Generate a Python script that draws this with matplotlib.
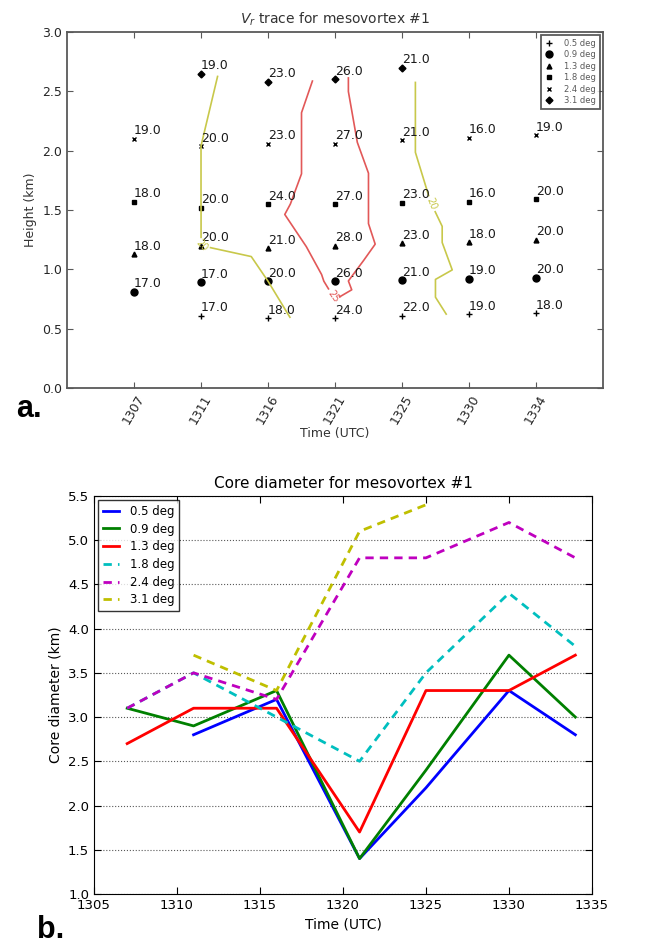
import numpy as np
import matplotlib
matplotlib.use("Agg")
import matplotlib.pyplot as plt
import matplotlib.tri as mtri

# ---- panel a: Vr trace ----
times = ["1307", "1311", "1316", "1321", "1325", "1330", "1334"]
elev_labels = ["0.5 deg", "0.9 deg", "1.3 deg", "1.8 deg", "2.4 deg", "3.1 deg"]
nan = np.nan
h05 = [nan, 0.61, 0.59, 0.59, 0.61, 0.62, 0.63]
h09 = [0.81, 0.89, 0.90, 0.90, 0.91, 0.92, 0.93]
h13 = [1.13, 1.20, 1.18, 1.20, 1.22, 1.23, 1.25]
h18 = [1.57, 1.52, 1.55, 1.55, 1.56, 1.57, 1.59]
h24 = [2.10, 2.04, 2.06, 2.06, 2.09, 2.11, 2.13]
h31 = [nan, 2.65, 2.58, 2.60, 2.70, nan, nan]
v05 = [nan, 17, 18, 24, 22, 19, 18]
v09 = [17, 17, 20, 26, 21, 19, 20]
v13 = [18, 20, 21, 28, 23, 18, 20]
v18 = [18, 20, 24, 27, 23, 16, 20]
v24 = [19, 20, 23, 27, 21, 16, 19]
v31 = [nan, 19, 23, 26, 21, nan, nan]
heights = [h05, h09, h13, h18, h24, h31]
vr = [v05, v09, v13, v18, v24, v31]
contour_levels = [20, 25]

# ---- panel b: core diameter ----
t_b = [1307, 1311, 1316, 1321, 1325, 1330, 1334]
d05 = [nan, 2.8, 3.2, 1.4, 2.2, 3.3, 2.8]
d09 = [3.1, 2.9, 3.3, 1.4, 2.4, 3.7, 3.0]
d13 = [2.7, 3.1, 3.1, 1.7, 3.3, 3.3, 3.7]
d18 = [3.1, 3.5, 3.0, 2.5, 3.5, 4.4, 3.8]
d24 = [3.1, 3.5, 3.2, 4.8, 4.8, 5.2, 4.8]
d31 = [nan, 3.7, 3.3, 5.1, 5.4, nan, nan]
diam = [d05, d09, d13, d18, d24, d31]

plt.rcParams["font.family"] = "DejaVu Sans"
fig = plt.figure(figsize=(6.66, 9.47), dpi=100)

# panel a
ax = fig.add_axes([0.1006, 0.5903, 0.8048, 0.3759])
markers = ["+", "o", "^", "s", "x", "D"]
msizes = [4.5, 5, 3.5, 3.5, 3.5, 3.5]
xs = np.arange(1, len(times) + 1)
px, py, pv = [], [], []
for lab, m, ms, h, v in zip(elev_labels, markers, msizes, heights, vr):
    h = np.array(h, dtype=float)
    v = np.array(v, dtype=float)
    ok = ~np.isnan(h)
    ax.plot(xs[ok], h[ok], ls="none", marker=m, color="k", ms=ms, mew=1.0, label=lab)
    for x, y, val in zip(xs[ok], h[ok], v[ok]):
        ax.annotate(f"{val:.1f}", (x, y), xytext=(0, 1), textcoords="offset points",
                    ha="left", va="bottom", fontsize=9, color="0.1")
    px += list(xs[ok]); py += list(h[ok]); pv += list(v[ok])

px = np.array(px, float); py = np.array(py, float); pv = np.array(pv, float)
# triangulate with stretched heights so interpolation runs mostly along the scan rows,
# drop flat hull slivers and triangles that skip a scan time
tri0 = mtri.Triangulation(px, py * 4.0)
flat = mtri.TriAnalyzer(tri0).get_flat_tri_mask(min_circle_ratio=0.12)
xspan = np.ptp(px[tri0.triangles], axis=1)
tri = mtri.Triangulation(px, py, triangles=tri0.triangles, mask=flat | (xspan > 1.5))
levels = [lv + 1e-3 for lv in contour_levels]
cs = ax.tricontour(tri, pv, levels=levels,
                   colors=["#c8c84a", "#e25858"], linewidths=1.2)
ax.clabel(cs, fmt="%d", fontsize=7, inline=True,
          manual=[(2.0, 1.18), (5.43, 1.55), (4.0, 0.78)])

ax.set_xlim(0, 8)
ax.set_ylim(0, 3.0)
ax.set_xticks(xs)
ax.set_xticklabels(times, rotation=60, ha="center", fontsize=9)
ax.tick_params(axis="y", labelsize=9)
ax.tick_params(direction="in", top=True, right=True, length=4, colors="0.35",
               labelcolor="0.15")
for sp in ax.spines.values():
    sp.set_color("0.35")
    sp.set_linewidth(1.3)
ax.set_title("$V_r$ trace for mesovortex #1", fontsize=10, color="0.2", pad=6)
ax.set_ylabel("Height (km)", fontsize=9, color="0.2")
ax.set_xlabel("Time (UTC)", fontsize=9, color="0.2")
ax.xaxis.set_label_coords(0.5, -0.11)
leg = ax.legend(loc="upper right", fontsize=6, numpoints=1, handlelength=1.2,
                handletextpad=1.2, borderaxespad=0.4, labelspacing=0.3,
                fancybox=False, edgecolor="0.2")
leg.get_frame().set_linewidth(1.3)
for t in leg.get_texts():
    t.set_color("0.35")

fig.text(0.024, 0.5595, "a.", fontsize=22, fontweight="bold", family="Liberation Sans",
         va="baseline")

# panel b
bx = fig.add_axes([0.1411, 0.0560, 0.7477, 0.4203])
colors = ["b", "g", "r", "c", "m", "y"]
styles = ["-", "-", "-", "--", "--", "--"]
for lab, c, s, d in zip(elev_labels, colors, styles, diam):
    d = np.array(d, dtype=float)
    ok = ~np.isnan(d)
    if s == "--":
        bx.plot(np.array(t_b)[ok], d[ok], color=c, lw=2, dashes=(3.0, 2.2), label=lab)
    else:
        bx.plot(np.array(t_b)[ok], d[ok], color=c, lw=2, label=lab)
bx.set_xlim(1305, 1335)
bx.set_ylim(1.0, 5.5)
bx.set_xticks(np.arange(1305, 1336, 5))
bx.set_yticks(np.arange(1.0, 5.51, 0.5))
bx.yaxis.grid(True, ls=":", color="0.35", lw=0.8)
bx.tick_params(direction="in", top=True, right=True, length=5, labelsize=9.5)
bx.set_title("Core diameter for mesovortex #1", fontsize=11)
bx.set_ylabel("Core diameter (km)", fontsize=10)
bx.set_xlabel("Time (UTC)", fontsize=10)
bleg = bx.legend(loc="upper left", fontsize=8.5, handlelength=1.4, fancybox=False,
                 edgecolor="k", borderaxespad=0.35, labelspacing=0.4,
                 handletextpad=0.9)
bleg.get_frame().set_linewidth(1.0)

fig.text(0.055, 0.002, "b.", fontsize=22, fontweight="bold", family="Liberation Sans",
         va="bottom")

fig.savefig("out.png", dpi=100)
